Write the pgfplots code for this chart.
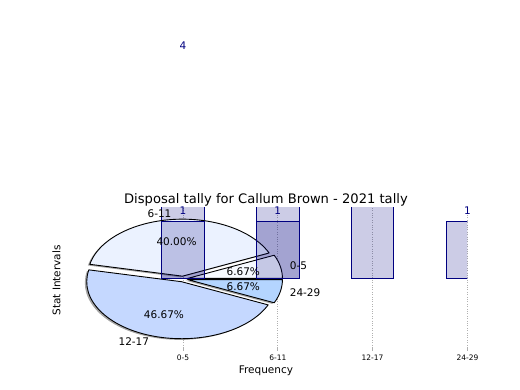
\documentclass[border=0pt]{standalone}
\usepackage{pgfplots}
\pgfplotsset{compat=1.18}
\usepackage{fontspec}
\setmainfont{DejaVu Sans}
\definecolor{navy}{RGB}{0,0,128}
\definecolor{gridgray}{RGB}{176,176,176}
\definecolor{wA}{RGB}{247,250,255}
\definecolor{wB}{RGB}{235,242,255}
\definecolor{wC}{RGB}{197,216,255}
\definecolor{wD}{RGB}{180,213,255}
% pie counts: 0-5, 6-11, 12-17, 24-29
\def\cA{1}\def\cB{6}\def\cC{7}\def\cD{1}
\pgfmathsetmacro\tot{\cA+\cB+\cC+\cD}
\pgfmathsetmacro\aA{0}
\pgfmathsetmacro\aB{\aA+360*\cA/\tot}
\pgfmathsetmacro\aC{\aB+360*\cB/\tot}
\pgfmathsetmacro\aD{\aC+360*\cC/\tot}
\pgfmathsetmacro\aE{\aD+360*\cD/\tot}
\def\ex{0.05}
\def\ux{94.8}\def\uy{57}
\newcommand\wedgecalc[3]{% name, start, end
  \pgfmathsetmacro\tmpm{(#2+#3)/2}%
  \expandafter\xdef\csname m#1\endcsname{\tmpm}%
  \pgfmathsetmacro\tmp{\ex*cos(\tmpm)}\expandafter\xdef\csname ox#1\endcsname{\tmp}%
  \pgfmathsetmacro\tmp{\ex*sin(\tmpm)}\expandafter\xdef\csname oy#1\endcsname{\tmp}%
  \pgfmathsetmacro\tmp{\ex*cos(\tmpm)-0.02}\expandafter\xdef\csname sx#1\endcsname{\tmp}%
  \pgfmathsetmacro\tmp{\ex*sin(\tmpm)-0.02}\expandafter\xdef\csname sy#1\endcsname{\tmp}%
  \pgfmathsetmacro\tmp{1.15*cos(\tmpm)}\expandafter\xdef\csname lx#1\endcsname{\tmp}%
  \pgfmathsetmacro\tmp{1.15*sin(\tmpm)}\expandafter\xdef\csname ly#1\endcsname{\tmp}%
  \pgfmathsetmacro\tmp{0.65*cos(\tmpm)}\expandafter\xdef\csname px#1\endcsname{\tmp}%
  \pgfmathsetmacro\tmp{0.65*sin(\tmpm)}\expandafter\xdef\csname py#1\endcsname{\tmp}%
}
\wedgecalc{A}{\aA}{\aB}
\wedgecalc{B}{\aB}{\aC}
\wedgecalc{C}{\aC}{\aD}
\wedgecalc{D}{\aD}{\aE}
\newcommand\shadowwedge[4]{% ox oy start end
  \fill[black!70, fill opacity=0.5] (axis cs:#1,#2) -- ++(#3:\ux pt and \uy pt)
    arc[start angle=#3, end angle=#4, x radius=\ux pt, y radius=\uy pt] -- cycle;}
\newcommand\piewedge[5]{% ox oy start end color
  \filldraw[fill=#5, draw=black, line width=0.9pt, line join=round] (axis cs:#1,#2) -- ++(#3:\ux pt and \uy pt)
    arc[start angle=#3, end angle=#4, x radius=\ux pt, y radius=\uy pt] -- cycle;}
\newcommand\lbl{\fontsize{10.5}{12}\selectfont}
\pgfplotsset{
  barlbl/.style={
    nodes near coords={\pgfmathprintnumber[assume math mode=true]{\pgfplotspointmeta}},
    nodes near coords style={text=navy, fill opacity=1, text opacity=1, font=\lbl, anchor=south, inner sep=0pt, yshift=7pt},
  },
}
\begin{document}
\begin{tikzpicture}
\useasboundingbox (-64.5pt,-42.6pt) rectangle (455.5pt,347.4pt);
\begin{axis}[
  at={(0,0)}, anchor=south west,
  x=\ux pt, y=\uy pt,
  xmin=-1.25, xmax=3, ymin=-1.2, ymax=1.25,
  axis line style={draw=none},
  xtick={0,1,2,3}, xticklabels={0-5,6-11,12-17,24-29},
  ytick=\empty,
  xtick pos=bottom,
  tick align=outside,
  major tick length=3.5pt,
  xtick style={gridgray, line width=0.8pt},
  xmajorgrids,
  grid style={gridgray, dotted, line width=0.8pt},
  xticklabel style={font=\fontsize{7.5}{9}\selectfont, anchor=north, inner sep=0pt, yshift=-3.5pt},
  title={Disposal tally for Callum Brown - 2021 tally},
  every axis title/.style={at={(axis description cs:0.5,1)}, anchor=base, yshift=4pt, font=\fontsize{13.1}{15}\selectfont},
  xlabel={Frequency},
  every axis x label/.style={at={(axis description cs:0.5,0)}, anchor=base, yshift=-26pt, font=\lbl},
  ylabel={Stat Intervals},
  every axis y label/.style={at={(axis description cs:-0.01,0.48)}, rotate=90, anchor=base, font=\lbl},
  clip mode=individual,
]
% bar series 1
\addplot[ybar, bar width=0.45, bar shift=0pt, draw=navy, line width=1pt, fill=navy, fill opacity=0.2, barlbl]
  coordinates {(0,4) (1,6) (2,7) (3,1)};
\coordinate (top4) at (axis cs:0,4);
% pie (shadows then wedges)
\shadowwedge{\sxA}{\syA}{\aA}{\aB}
\shadowwedge{\sxB}{\syB}{\aB}{\aC}
\shadowwedge{\sxC}{\syC}{\aC}{\aD}
\shadowwedge{\sxD}{\syD}{\aD}{\aE}
\piewedge{\oxA}{\oyA}{\aA}{\aB}{wA}
\piewedge{\oxB}{\oyB}{\aB}{\aC}{wB}
\piewedge{\oxC}{\oyC}{\aC}{\aD}{wC}
\piewedge{\oxD}{\oyD}{\aD}{\aE}{wD}
% bar series 2
\addplot[ybar, bar width=0.45, bar shift=0pt, draw=navy, line width=1pt, fill=navy, fill opacity=0.2, barlbl]
  coordinates {(0,1) (1,1)};
% pie labels
\node[font=\lbl, anchor=west, inner sep=0pt] at (axis cs:\lxA,\lyA) {0-5};
\node[font=\lbl, anchor=east, inner sep=0pt] at (axis cs:\lxB,\lyB) {6-11};
\node[font=\lbl, anchor=east, inner sep=0pt] at (axis cs:\lxC,\lyC) {12-17};
\node[font=\lbl, anchor=west, inner sep=0pt] at (axis cs:\lxD,\lyD) {24-29};
\node[font=\lbl, inner sep=0pt] at (axis cs:\pxA,\pyA) {6.67\%};
\node[font=\lbl, inner sep=0pt] at (axis cs:\pxB,\pyB) {40.00\%};
\node[font=\lbl, inner sep=0pt] at (axis cs:\pxC,\pyC) {46.67\%};
\node[font=\lbl, inner sep=0pt] at (axis cs:\pxD,\pyD) {6.67\%};
\end{axis}
\node[text=navy, font=\lbl, anchor=south, inner sep=0pt, yshift=1pt] at (top4) {4};
\end{tikzpicture}
\end{document}
